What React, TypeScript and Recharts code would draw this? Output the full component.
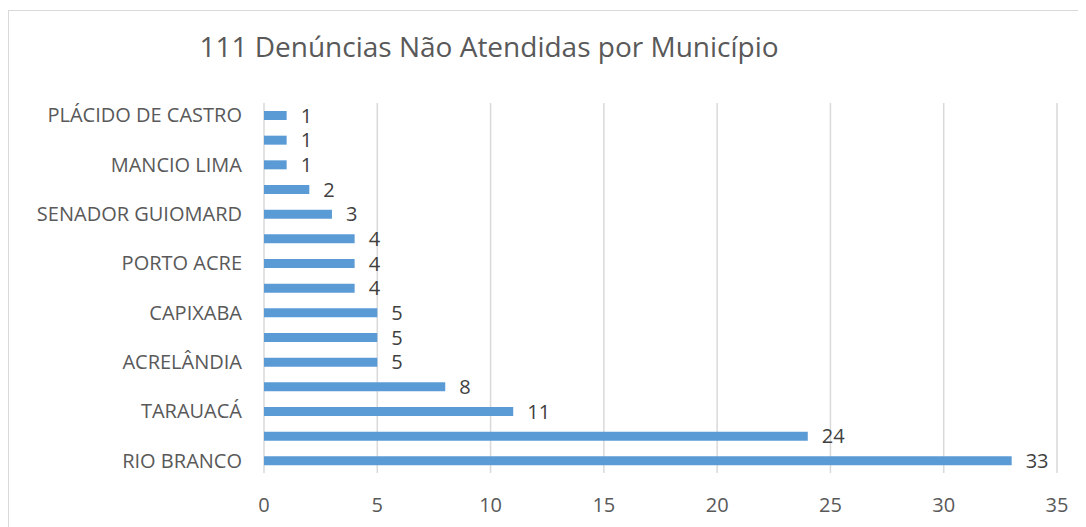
import React from "react"
import { BarChart, Bar, XAxis, YAxis, CartesianGrid, LabelList } from "recharts"

// top to bottom as drawn
const municipios = [
  "PLÁCIDO DE CASTRO",
  "ASSIS BRASIL",
  "MANCIO LIMA",
  "BUJARI",
  "SENADOR GUIOMARD",
  "BRASILÉIA",
  "PORTO ACRE",
  "XAPURI",
  "CAPIXABA",
  "EPITACIOLÂNDIA",
  "ACRELÂNDIA",
  "FEIJÓ",
  "TARAUACÁ",
  "CRUZEIRO DO SUL",
  "RIO BRANCO",
]
const denuncias = [1, 1, 1, 2, 3, 4, 4, 4, 5, 5, 5, 8, 11, 24, 33]
const xTicks = [0, 5, 10, 15, 20, 25, 30, 35]

const data = municipios.map((m, i) => ({ municipio: m, total: denuncias[i] }))

const font = "'Open Sans', sans-serif"

export default function App() {
  return (
    <div style={{ width: 1078, height: 517, marginTop: 2, overflow: "hidden", position: "relative", fontFamily: font }}>
      <div style={{ position: "absolute", left: 0, top: 0, width: 1100, height: 540, border: "1.5px solid #d9d9d9", boxSizing: "border-box" }} />
      <div style={{ position: "absolute", left: 0, width: 962, top: 17, textAlign: "center", fontSize: 28, color: "#595959" }}>
        111 Denúncias Não Atendidas por Município
      </div>
      <BarChart
        width={1078}
        height={517}
        data={data}
        layout="vertical"
        margin={{ top: 93, right: 29, bottom: 24, left: 0 }}
        barSize={9}
      >
        <CartesianGrid horizontal={false} stroke="#d9d9d9" strokeWidth={1.5} />
        <XAxis
          type="number"
          domain={[0, 35]}
          ticks={xTicks}
          axisLine={false}
          tickLine={false}
          tickMargin={19}
          height={30}
          tick={{ fontSize: 20, fill: "#595959", fontFamily: font }}
        />
        <YAxis
          type="category"
          dataKey="municipio"
          width={256}
          interval={1}
          axisLine={false}
          tickLine={false}
          tickMargin={16}
          tick={{ fontSize: 20, fill: "#595959", fontFamily: font }}
        />
        <Bar dataKey="total" fill="#5b9bd5" isAnimationActive={false}>
          <LabelList dataKey="total" position="right" offset={14} fill="#404040" fontSize={20} fontFamily={font} />
        </Bar>
      </BarChart>
    </div>
  )
}
